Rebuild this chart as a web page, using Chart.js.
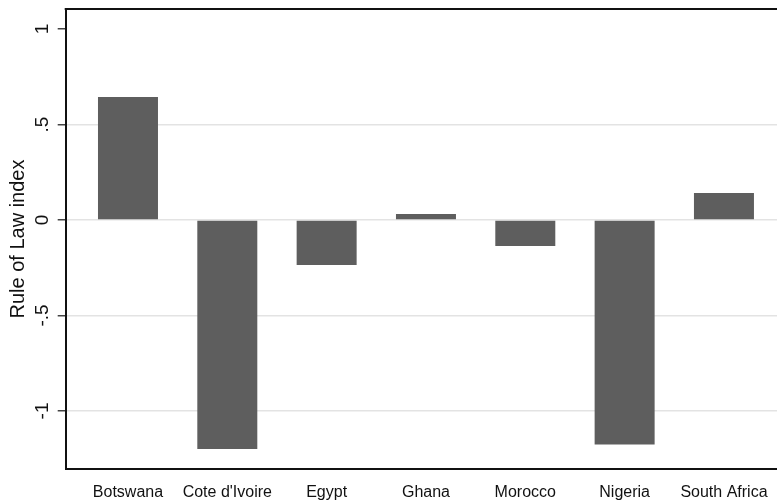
<!DOCTYPE html>
<html>
<head>
<meta charset="utf-8">
<script src="https://cdn.jsdelivr.net/npm/chart.js@4/dist/chart.umd.min.js"></script>
<style>
html,body{margin:0;padding:0;background:#fff;}
#c{display:block;}
</style>
</head>
<body>
<canvas id="c" width="777" height="503"></canvas>
<script>
const categories = ["Botswana", "Cote d'Ivoire", "Egypt", "Ghana", "Morocco", "Nigeria", "South Africa"];
const ruleOfLaw = [0.644, -1.199, -0.236, 0.031, -0.136, -1.176, 0.141];
const yTickValues = [-1, -0.5, 0, 0.5, 1];
const yTickLabels = ["-1", "-.5", "0", ".5", "1"];
const yTitle = "Rule of Law index";

const framePlugin = {
  id: 'frame',
  afterDraw(chart) {
    const {ctx, chartArea} = chart;
    ctx.save();
    ctx.strokeStyle = '#111';
    ctx.lineWidth = 2;
    ctx.beginPath();
    ctx.moveTo(chartArea.left - 1, chartArea.top);
    ctx.lineTo(chartArea.right + 2, chartArea.top);
    ctx.stroke();
    ctx.restore();
  }
};

new Chart(document.getElementById('c'), {
  type: 'bar',
  data: {
    datasets: [{
      data: categories.map((c, i) => ({x: i, y: ruleOfLaw[i]})),
      backgroundColor: '#5e5e5e',
      borderWidth: 0,
      barPercentage: 0.604,
      categoryPercentage: 1
    }]
  },
  options: {
    responsive: false,
    animation: false,
    devicePixelRatio: 1,
    layout: {padding: {top: 9, right: 0, left: 0, bottom: 0}},
    plugins: {legend: {display: false}, tooltip: {enabled: false}},
    scales: {
      x: {
        type: 'linear',
        offset: false,
        min: -0.627,
        max: 6.534,
        afterBuildTicks: s => { s.ticks = categories.map((c, i) => ({value: i})); },
        afterFit: s => { s.height = 34; s.paddingLeft = 0; s.paddingRight = 0; },
        grid: {drawOnChartArea: false, drawTicks: false},
        border: {display: true, color: '#111', width: 2},
        ticks: {
          callback: v => categories[v] ?? '',
          padding: 14,
          maxRotation: 0,
          autoSkip: false,
          color: '#111',
          font: {family: 'Liberation Sans', size: 16}
        }
      },
      y: {
        min: -1.304,
        max: 1.105,
        afterBuildTicks: s => { s.ticks = yTickValues.map(v => ({value: v})); },
        afterFit: s => { s.width = 65.7; s.paddingTop = 0; s.paddingBottom = 0; },
        grid: {
          color: c => (c.tick && c.tick.value === 1) ? 'rgba(0,0,0,0)' : '#e3e3e3',
          lineWidth: 1.5,
          tickColor: '#444',
          tickLength: 8,
          drawTicks: true
        },
        border: {display: true, color: '#111', width: 2},
        ticks: {
          callback: v => yTickLabels[yTickValues.indexOf(v)],
          minRotation: 90,
          maxRotation: 90,
          crossAlign: 'center',
          padding: 4,
          color: '#111',
          font: {family: 'Liberation Sans', size: 19}
        },
        title: {
          display: true,
          text: yTitle,
          color: '#111',
          font: {family: 'Liberation Sans', size: 20},
          padding: {top: 6, bottom: 0}
        }
      }
    }
  },
  plugins: [framePlugin]
});
</script>
</body>
</html>
